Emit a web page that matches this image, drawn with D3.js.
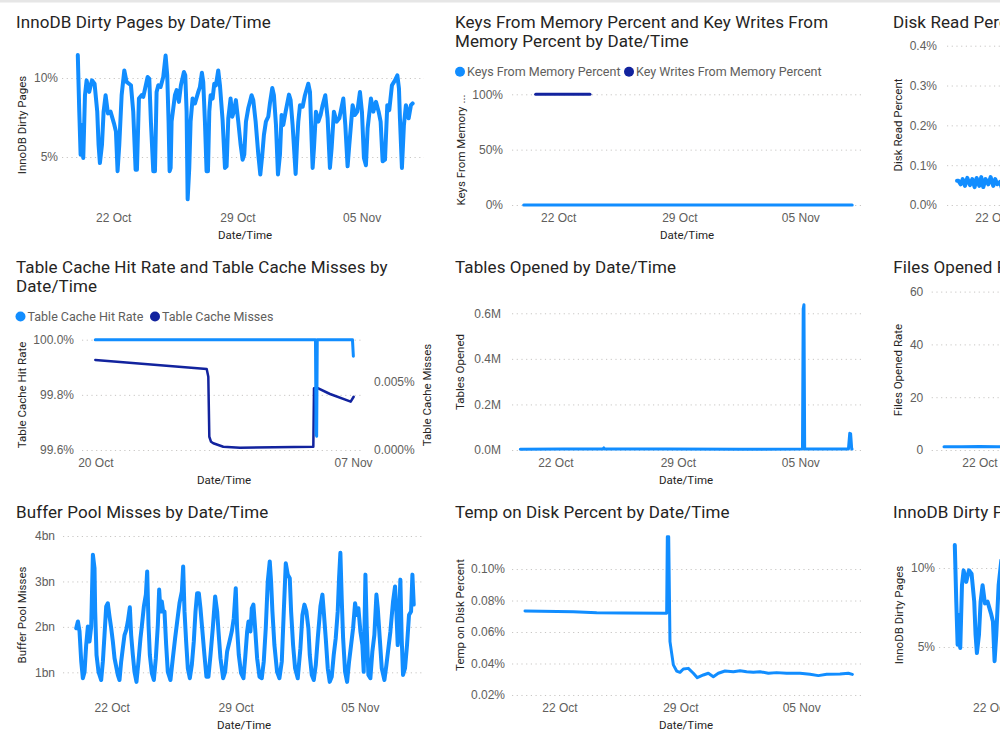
<!DOCTYPE html>
<html>
<head>
<meta charset="utf-8">
<script src="https://cdn.jsdelivr.net/npm/d3@7"></script>
<style>
  body { margin: 0; background: #fff; }
  svg { display: block; font-family: "Segoe UI", Roboto, sans-serif; }
  .title { font-size: 17px; fill: #252423; letter-spacing: 0.1px; }
  .tick text { font-size: 12px; fill: #605E5C; }
  .axis-title { font-size: 11.5px; fill: #252423; }
  .legend { font-size: 12.5px; fill: #605E5C; }
  .grid line { stroke: #C8C6C4; stroke-dasharray: 1.2,3.5; }
</style>
</head>
<body>
<svg id="chart" width="1000" height="750"></svg>
<script>
// all series are hours since 20 Oct 00:00
const T0 = Date.UTC(2022, 9, 20);
const at = h => new Date(T0 + h * 3600e3);
const fmtDay = d3.utcFormat("%d %b");

const LIGHT = "#118DFF", DARK = "#12239E";

const weekTicks = ["2022-10-22", "2022-10-29", "2022-11-05"];
const cacheTicks = ["2022-10-20", "2022-11-07"];

const dirtyHours = [0,2.0,3.8,5.6,7.4,9.7,11.9,15.5,19.1,22.7,26.3,28.1,29.9,32.7,34.9,37.6,40.8,44.3,48.9,51.6,
  53.8,56.1,59.3,62.9,66.0,71.9,75.0,78.2,80.0,82.7,86.3,88.6,94.4,96.7,98.9,102.1,104.4,106.6,108.9,112.0,
  115.6,118.8,121.0,122.8,124.2,125.6,126.9,131.4,133.7,136.8,139.5,143.6,145.4,147.2,148.6,150.8,152.6,155.3,158.5,163.0,
  165.2,167.9,169.7,172.0,174.2,176.1,177.9,179.7,182.4,184.6,186.9,190.0,192.3,195.9,199.1,201.3,203.6,206.7,209.0,211.2,
  213.9,217.1,220.3,223.0,225.2,227.5,230.6,232.9,235.1,237.4,240.6,244.2,246.9,249.6,251.8,254.5,257.7,259.9,263.1,265.3,
  268.1,270.8,273.5,275.7,278.0,281.2,285.7,287.9,290.6,294.7,296.5,298.3,300.6,304.2,307.3,311.8,314.1,316.4,317.7,319.5,
  322.2,325.4,328.5,331.2,334.8,338.0,341.1,343.4,346.5,350.1,353.8,359.2,361.9,365.0,367.3,371.8,375.0,378.1,381.7,384.4,
  387.1,389.8,392.1,396.6,399.8,403.4,407.0,409.7,412.4,415.6,418.7,421.4,425.0,429.1,432.3,434.5,435.8,438.5,441.2,443.9,
  447.6,450.7,453.0];
const dirtyPct = [11.46,7.87,5.15,7.03,4.94,8.91,9.85,9.12,9.85,9.64,7.87,5.77,4.62,5.77,7.87,8.91,7.76,7.87,7.13,6.61,
  4.10,5.77,8.91,10.48,9.75,9.54,7.87,4.20,4.20,8.70,8.91,8.81,10.06,9.96,7.24,4.10,4.10,9.12,9.54,9.43,
  10.06,11.42,10.17,7.24,4.10,4.31,7.24,8.91,9.23,8.49,9.54,10.38,10.17,7.87,2.32,4.31,7.24,8.70,8.39,9.12,
  9.43,10.33,9.75,7.24,4.10,4.10,7.87,8.91,8.70,9.64,9.54,10.48,9.54,7.34,4.31,4.41,7.45,8.70,7.55,7.87,
  8.60,7.24,5.77,4.83,5.15,7.24,8.08,8.49,8.91,8.60,7.24,5.15,3.89,5.15,6.40,7.24,7.55,8.39,9.37,8.91,
  7.03,3.89,5.15,7.66,7.03,7.87,8.95,8.60,7.03,3.93,5.77,7.24,8.28,8.18,8.91,9.64,9.12,5.98,4.31,5.56,
  7.87,7.24,7.66,8.28,8.91,7.45,4.31,5.56,7.87,7.24,7.45,8.70,7.03,4.41,5.77,8.28,7.66,7.87,9.12,7.87,
  4.94,4.48,6.82,8.70,7.87,8.49,7.87,7.24,4.73,4.83,8.28,7.97,9.54,9.85,10.17,9.33,7.45,4.31,7.03,8.28,
  7.45,8.28,8.39];

const keysHours = [0, 456];
const keysPct = [0, 0];
const keyWritesHours = [16.6, 92];
const keyWritesPct = [100, 100];

const diskHours = [0,1.8,5.0,7.7,10.8,14.0,17.6,20.7,23.9,26.6,30.2,32.9,35.6,38.8,42.4,45.6,49.2,51.9,54.6,58.2,61.0,64.0,67.5];
const diskPct = [0.061,0.061,0.052,0.065,0.048,0.068,0.050,0.065,0.045,0.068,0.048,0.070,0.045,0.065,0.052,0.070,0.048,0.065,0.052,0.058,0.042,0.060,0.049];

const cacheHitHours = [0, 369, 370, 371, 372, 431, 432.5];
const cacheHitPct = [100, 100, 99.66, 99.65, 100, 100, 99.94];
const cacheMissHours = [0, 186.7, 189.4, 191.1, 194, 197.8, 214.5, 242.5, 300, 365.4, 366.5, 371.1, 393.4, 428.0, 433.0];
const cacheMissPct = [0.00659, 0.00593, 0.00537, 0.00097, 0.0006, 0.00049, 0.00024, 0.00017, 0.0002, 0.00024, 0.00452, 0.00456, 0.0041, 0.00354, 0.0039];

const tablesHours = [0, 60, 113, 114.5, 116, 200, 300, 387, 388, 389, 390, 450, 451.8, 453, 454.5, 455];
const tablesM = [0.003, 0.004, 0.004, 0.009, 0.004, 0.004, 0.003, 0.004, 0.62, 0.637, 0.004, 0.004, 0.073, 0.072, 0.004, 0.004];

const filesHours = [0, 24, 48, 72, 96, 120];
const filesRate = [1.2, 1.2, 1.3, 1.2, 1.2, 1.2];

const bufferHours = [0,2.3,4.5,6.8,9.0,11.3,13.5,15.8,18.0,20.3,22.6,24.8,25.7,27.5,30.2,33.8,36.1,38.3,40.6,42.8,
  45.1,47.4,49.6,51.9,56.4,58.6,60.9,63.1,65.4,67.7,69.9,72.6,74.4,76.7,78.9,81.6,84.3,87.0,88.8,91.6,
  94.3,96.1,97.9,99.7,102.4,105.1,107.8,110.5,112.3,114.1,115.9,117.7,119.5,121.8,124.0,127.6,130.8,133.9,136.7,139.8,
  143.0,144.8,146.6,148.8,151.1,153.8,156.5,159.2,161.5,163.7,166.0,168.2,170.5,173.6,176.3,179.0,181.8,184.9,188.1,190.8,
  192.6,195.3,198.9,201.6,204.3,207.5,210.6,213.3,216.0,217.8,220.1,223.2,226.4,228.7,231.4,233.2,235.9,237.7,239.9,242.2,
  244.9,248.1,251.2,253.9,256.6,259.3,262.0,263.8,265.6,268.3,271.9,275.1,278.3,281.0,283.7,286.4,289.1,290.9,293.6,296.3,
  299.9,303.5,306.2,308.9,311.6,314.3,316.2,318.9,321.6,324.3,327.0,330.6,333.3,335.1,337.8,340.5,343.2,345.9,348.6,351.3,
  354.0,355.8,357.6,359.4,361.3,364.0,366.7,369.4,372.1,374.8,377.5,380.2,382.0,384.7,387.4,389.2,391.5,393.3,395.5,398.2,
  400.9,403.6,406.4,408.2,410.9,413.6,417.2,419.9,422.6,425.3,428.9,431.6,433.4,435.2,437.0,438.8,440.6,442.4,445.1,447.8,
  450.5,453.3,455.1,456.9];
const bufferBn = [1.97,2.12,1.90,1.24,0.87,1.01,1.60,2.01,1.68,2.01,3.59,3.29,2.34,1.38,1.01,0.83,1.24,1.82,2.45,2.52,
  2.23,1.97,1.68,1.31,0.94,0.83,1.24,1.53,1.82,1.93,2.12,2.43,1.82,1.38,1.01,0.79,1.24,1.75,2.01,2.45,
  2.71,3.22,2.04,1.38,0.98,0.83,1.31,2.04,2.82,2.34,2.56,2.34,2.34,1.60,1.01,0.83,1.31,1.75,2.12,2.52,
  2.78,3.33,2.34,1.68,1.09,0.87,1.16,1.68,2.34,2.74,2.74,2.41,1.97,1.38,0.90,0.90,1.38,1.97,2.67,2.34,
  1.90,1.31,0.87,1.01,1.46,1.68,1.90,2.19,2.85,1.97,1.38,0.98,0.87,1.31,1.90,2.12,1.90,2.41,2.49,1.97,
  1.31,0.90,0.87,1.24,1.97,3.00,3.44,3.00,2.34,1.60,1.01,0.87,1.24,2.34,3.40,3.15,3.07,2.34,1.60,1.09,
  0.87,1.53,2.26,2.49,2.34,1.97,1.38,0.94,0.83,1.16,1.75,2.45,2.71,2.34,1.75,1.09,0.79,0.90,1.38,1.75,
  2.34,3.07,3.63,2.63,1.75,1.01,0.79,1.24,1.60,1.97,2.52,2.26,2.41,1.90,1.60,1.01,3.15,1.97,0.94,0.87,
  1.46,1.82,2.71,2.41,1.75,1.09,0.83,1.16,1.53,1.90,2.56,2.89,2.34,1.60,2.12,3.04,1.75,0.94,1.09,1.60,
  2.26,2.34,3.15,2.49];

const tempHours = [0,67.2,99.7,136.7,197.0,197.9,199.8,201.6,206.3,210.9,215.5,220.2,227.1,234.1,239.6,248.0,254.9,261.9,
  268.8,278.1,289.7,299.0,308.2,317.5,326.8,338.4,349.9,363.8,382.4,396.3,407.9,419.5,438.0,449.6,455.2];
const tempPct = [0.0733,0.0729,0.0723,0.0721,0.0719,0.1205,0.1205,0.0539,0.0391,0.0352,0.0344,0.0365,0.0369,0.0338,0.0310,
  0.0327,0.0338,0.0316,0.0338,0.0352,0.0348,0.0354,0.0348,0.0344,0.0348,0.0338,0.0342,0.0338,0.0338,0.0331,0.0323,0.0331,
  0.0333,0.0338,0.0331];

const svg = d3.select("#chart");

svg.append("rect").attr("width", 1000).attr("height", 2.5).attr("fill", "#e6e6e6");

function timeScale(x20, pxPerDay, days) {
  return d3.scaleUtc().domain([at(0), at(days * 24)]).range([x20, x20 + pxPerDay * days]);
}

function title(g, lines, x, y) {
  lines.forEach((t, i) => g.append("text").attr("class", "title")
    .attr("x", x).attr("y", y + i * 18.5).text(t));
}

function axisTitle(g, t, x, y, rotate) {
  g.append("text").attr("class", "axis-title")
    .attr("text-anchor", "middle").attr("dy", "0.35em")
    .attr("transform", `translate(${x},${y})` + (rotate ? " rotate(-90)" : ""))
    .text(t);
}

function legend(g, items, y) {
  items.forEach(it => {
    g.append("circle").attr("cx", it.x).attr("cy", y).attr("r", 5).attr("fill", it.color);
    g.append("text").attr("class", "legend").attr("x", it.x + 7).attr("y", y).attr("dy", "0.35em").text(it.label);
  });
}

function yGrid(g, y, ticks, fmt, x0, x1, pad) {
  g.append("g").attr("class", "grid")
    .attr("transform", `translate(${x0},0)`)
    .call(d3.axisLeft(y).tickValues(ticks).tickFormat(fmt).tickSize(-(x1 - x0)).tickPadding(pad))
    .call(a => a.select(".domain").remove());
}

function xAxis(g, x, ticks, yPos) {
  g.append("g").attr("transform", `translate(0,${yPos})`)
    .call(d3.axisBottom(x).tickValues(ticks.map(d => new Date(d))).tickFormat(fmtDay).tickSize(0).tickPadding(0))
    .call(a => a.select(".domain").remove())
    .selectAll("text").attr("y", 0).attr("dy", "0.35em");
}

function drawLine(g, x, y, hours, vals, color, w) {
  const pts = hours.map((h, i) => [at(h), vals[i]]);
  g.append("path").datum(pts)
    .attr("fill", "none").attr("stroke", color).attr("stroke-width", w)
    .attr("stroke-linejoin", "round").attr("stroke-linecap", "round")
    .attr("d", d3.line().x(d => x(d[0])).y(d => y(d[1])));
}

const pct = d => d + "%";

// InnoDB Dirty Pages (drawn twice: col 1 row 1 and col 3 row 3)
function dirtyPanel(g) {
  const x = timeScale(77.8, 17.74, 19);
  const y = d3.scaleLinear().domain([2, 12]).range([204.4, 46.4]);
  title(g, ["InnoDB Dirty Pages by Date/Time"], 16, 28.3);
  yGrid(g, y, [5, 10], pct, 62, 424, 4);
  xAxis(g, x, weekTicks, 217.5);
  axisTitle(g, "Date/Time", 245, 234.5);
  axisTitle(g, "InnoDB Dirty Pages", 21.5, 125, true);
  drawLine(g, x, y, dirtyHours, dirtyPct, LIGHT, 4);
}
dirtyPanel(svg.append("g"));
dirtyPanel(svg.append("g").attr("transform", "translate(877,490)"));

// Keys From Memory
{
  const g = svg.append("g");
  const x = timeScale(523.7, 17.29, 19);
  const y = d3.scaleLinear().domain([0, 100]).range([205, 94.3]);
  title(g, ["Keys From Memory Percent and Key Writes From", "Memory Percent by Date/Time"], 455, 28.3);
  legend(g, [{x: 460, color: LIGHT, label: "Keys From Memory Percent"},
             {x: 629, color: DARK, label: "Key Writes From Memory Percent"}], 71.7);
  yGrid(g, y, [0, 50, 100], pct, 512, 862, 9);
  xAxis(g, x, weekTicks, 217.5);
  axisTitle(g, "Date/Time", 687, 234.5);
  axisTitle(g, "Keys From Memory ...", 461, 150, true);
  drawLine(g, x, y, keysHours, keysPct, LIGHT, 3);
  drawLine(g, x, y, keyWritesHours, keyWritesPct, DARK, 3);
}

// Disk Read Percent
{
  const g = svg.append("g");
  const x = timeScale(957, 17.7, 19);
  const y = d3.scaleLinear().domain([0, 0.4]).range([205, 45.7]);
  title(g, ["Disk Read Percent by Date/Time"], 893, 28.3);
  yGrid(g, y, [0, 0.1, 0.2, 0.3, 0.4], d => d.toFixed(1) + "%", 947, 1240, 10);
  xAxis(g, x, weekTicks, 217.5);
  axisTitle(g, "Disk Read Percent", 898.3, 125, true);
  drawLine(g, x, y, diskHours, diskPct, LIGHT, 4);
}

// Table Cache
{
  const g = svg.append("g");
  const x = timeScale(95.3, 14.32, 18);
  const yL = d3.scaleLinear().domain([99.6, 100]).range([450, 339.7]);
  const yR = d3.scaleLinear().domain([0, 0.008075]).range([450, 339.7]);
  title(g, ["Table Cache Hit Rate and Table Cache Misses by", "Date/Time"], 16, 273.3);
  legend(g, [{x: 20.5, color: LIGHT, label: "Table Cache Hit Rate"},
             {x: 155, color: DARK, label: "Table Cache Misses"}], 316.5);
  yGrid(g, yL, [99.6, 99.8, 100], d => d.toFixed(1) + "%", 82, 362, 8);
  g.append("g").attr("transform", "translate(374,0)")
    .call(d3.axisRight(yR).tickValues([0, 0.005]).tickFormat(d => d.toFixed(3) + "%").tickSize(0).tickPadding(0))
    .call(a => a.select(".domain").remove());
  xAxis(g, x, cacheTicks, 462.5);
  axisTitle(g, "Date/Time", 224, 479.7);
  axisTitle(g, "Table Cache Hit Rate", 21.7, 395, true);
  axisTitle(g, "Table Cache Misses", 426.7, 395, true);
  drawLine(g, x, yR, cacheMissHours, cacheMissPct, DARK, 2.5);
  drawLine(g, x, yL, cacheHitHours, cacheHitPct, LIGHT, 3);
}

// Tables Opened
{
  const g = svg.append("g");
  const x = timeScale(520.3, 17.5, 19);
  const y = d3.scaleLinear().domain([0, 0.66]).range([450, 299.6]);
  title(g, ["Tables Opened by Date/Time"], 455, 273.3);
  yGrid(g, y, [0, 0.2, 0.4, 0.6], d => d.toFixed(1) + "M", 512, 862, 11);
  xAxis(g, x, weekTicks, 462.5);
  axisTitle(g, "Date/Time", 686, 479.7);
  axisTitle(g, "Tables Opened", 460, 372, true);
  drawLine(g, x, y, tablesHours, tablesM, LIGHT, 3);
}

// Files Opened Rate
{
  const g = svg.append("g");
  const x = timeScale(944, 17.7, 19);
  const y = d3.scaleLinear().domain([0, 60]).range([450, 291.6]);
  title(g, ["Files Opened Rate by Date/Time"], 893.3, 273.3);
  yGrid(g, y, [0, 20, 40, 60], d => d, 931.7, 1240, 8.4);
  xAxis(g, x, weekTicks, 462.5);
  axisTitle(g, "Files Opened Rate", 898.3, 370, true);
  drawLine(g, x, y, filesHours, filesRate, LIGHT, 3);
}

// Buffer Pool Misses
{
  const g = svg.append("g");
  const x = timeScale(76.2, 17.73, 19);
  const y = d3.scaleLinear().domain([0.6, 4]).range([690.5, 536]);
  title(g, ["Buffer Pool Misses by Date/Time"], 16, 518.3);
  yGrid(g, y, [1, 2, 3, 4], d => d + "bn", 63, 422, 8);
  xAxis(g, x, weekTicks, 707.5);
  axisTitle(g, "Date/Time", 244, 724.7);
  axisTitle(g, "Buffer Pool Misses", 21.7, 615, true);
  drawLine(g, x, y, bufferHours, bufferBn, LIGHT, 4);
}

// Temp on Disk Percent
{
  const g = svg.append("g");
  const x = timeScale(525, 17.26, 19);
  const y = d3.scaleLinear().domain([0.017, 0.122]).range([699.7, 534.4]);
  title(g, ["Temp on Disk Percent by Date/Time"], 455, 518.3);
  yGrid(g, y, [0.02, 0.04, 0.06, 0.08, 0.10], d => d.toFixed(2) + "%", 512, 862, 7);
  xAxis(g, x, weekTicks, 707.5);
  axisTitle(g, "Date/Time", 686, 724.7);
  axisTitle(g, "Temp on Disk Percent", 460, 615, true);
  drawLine(g, x, y, tempHours, tempPct, LIGHT, 3);
}
</script>
</body>
</html>
